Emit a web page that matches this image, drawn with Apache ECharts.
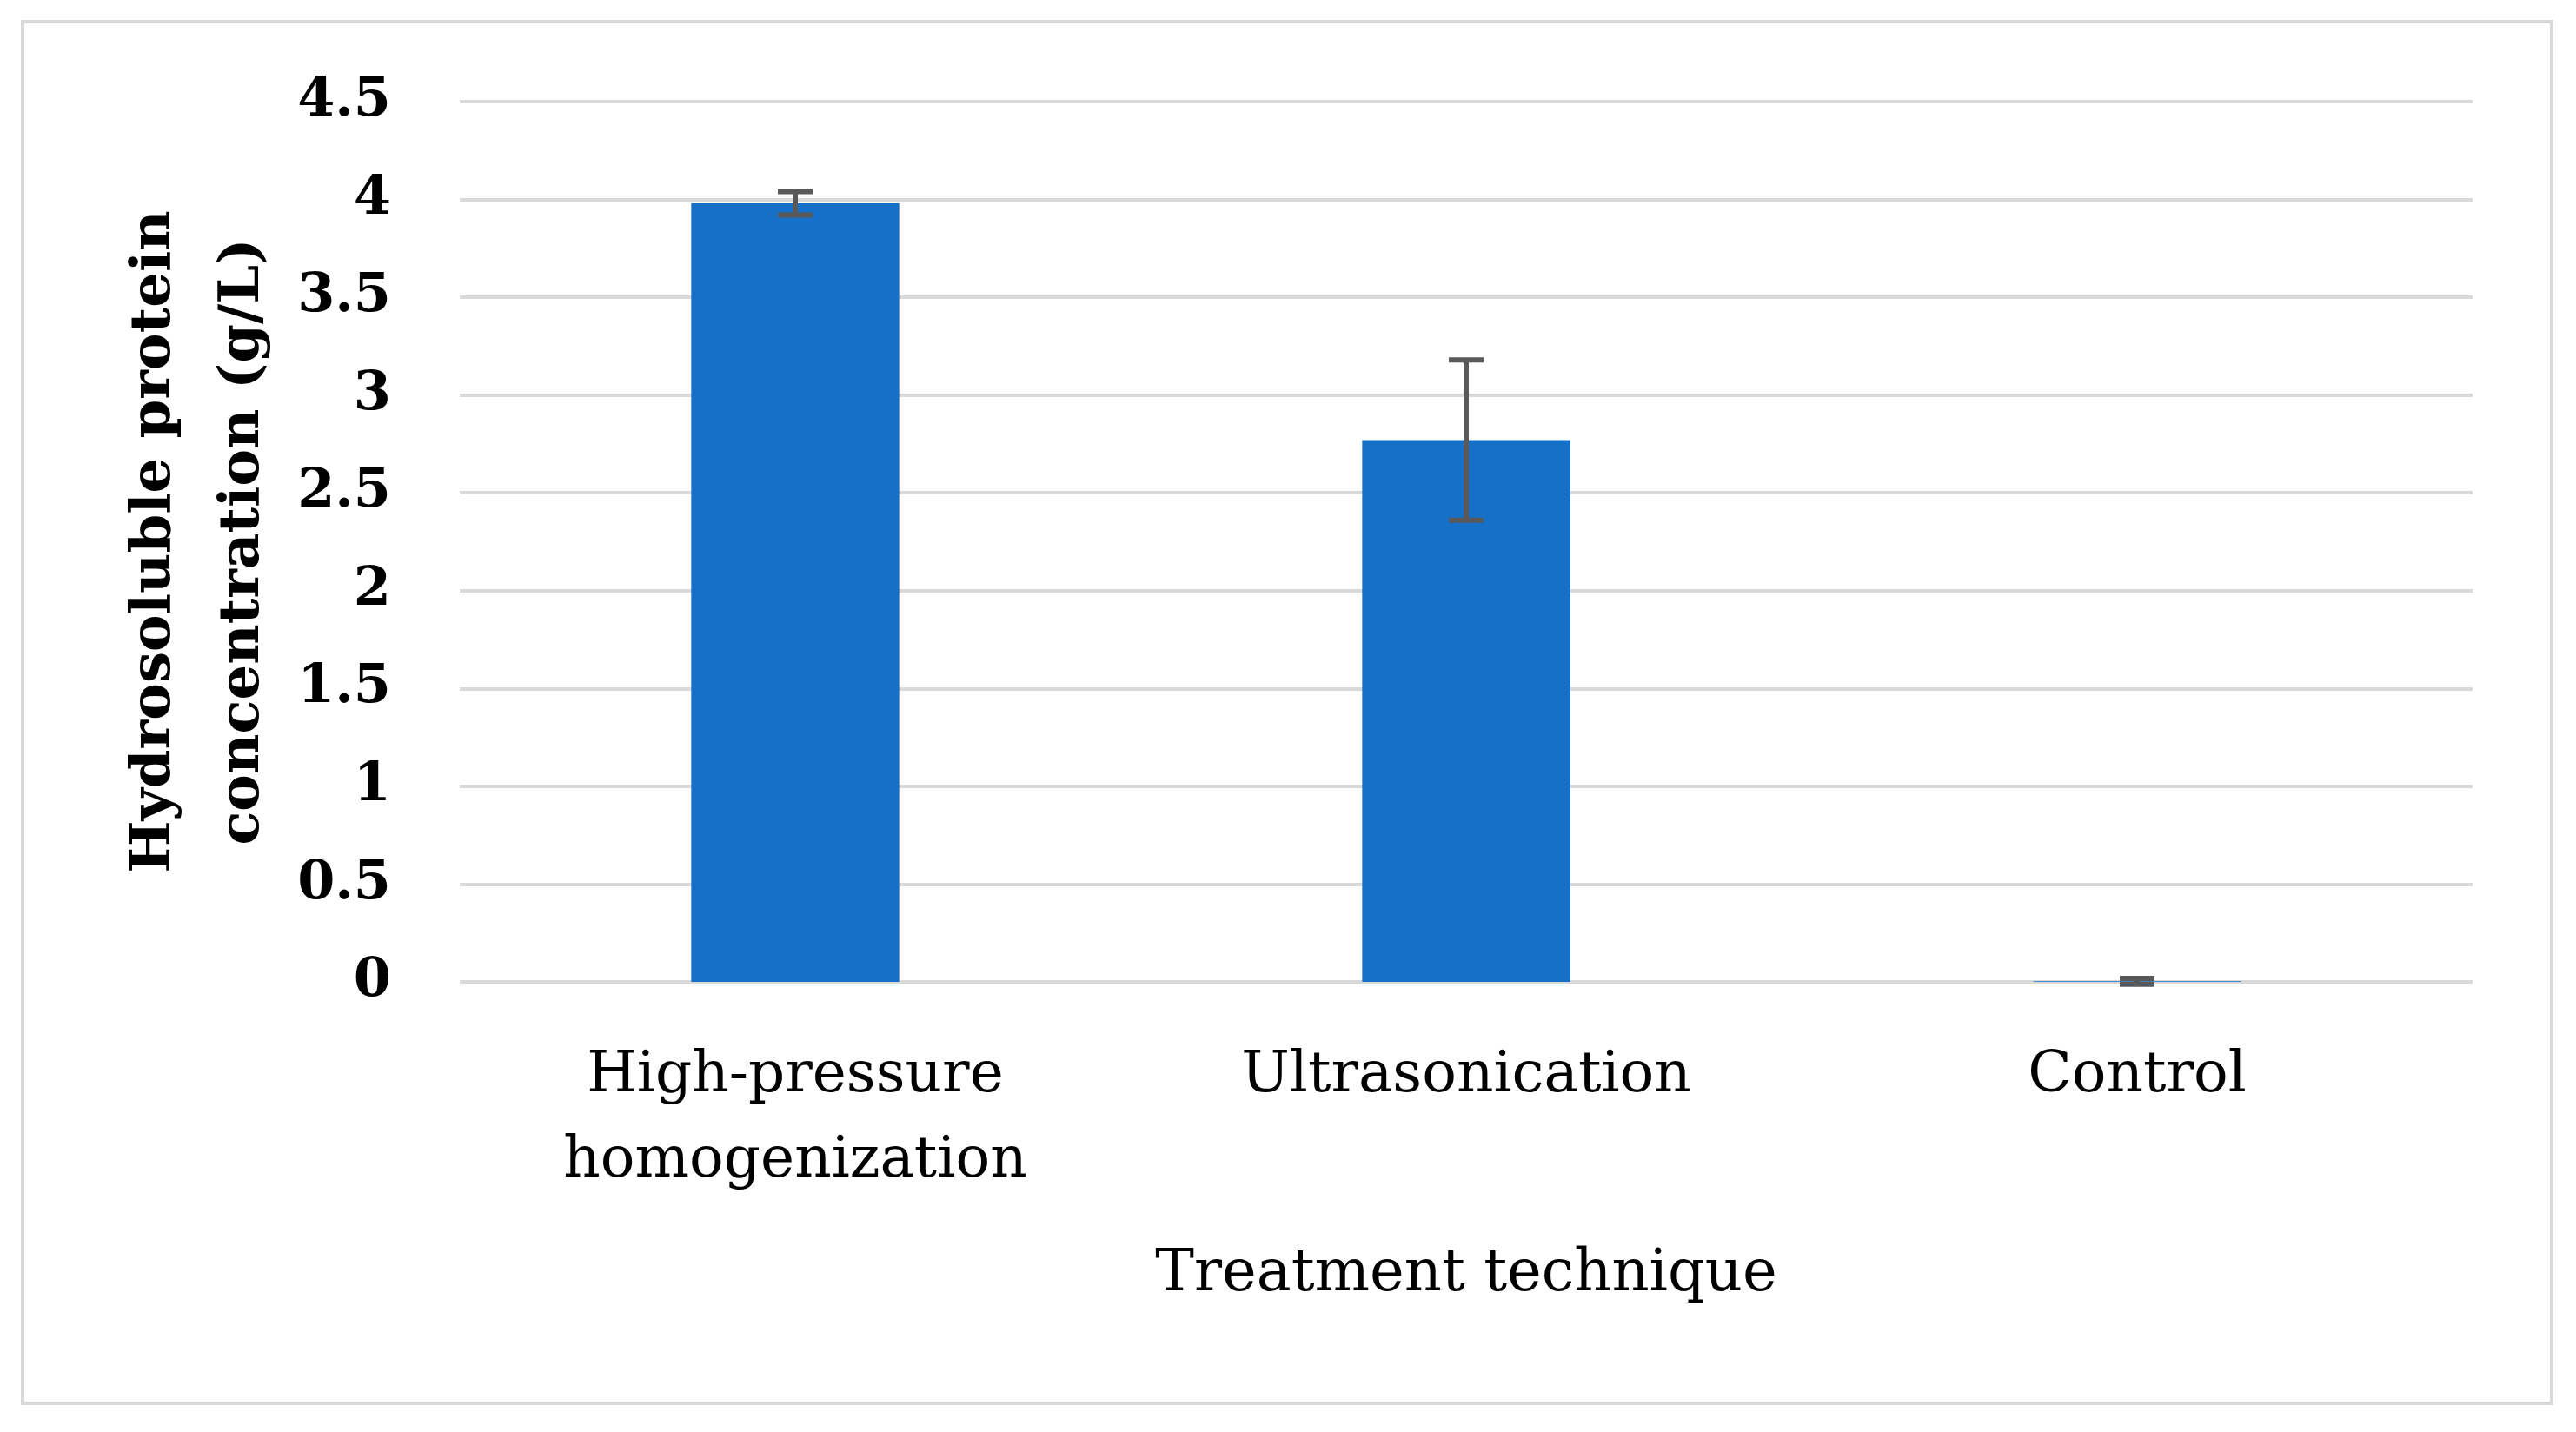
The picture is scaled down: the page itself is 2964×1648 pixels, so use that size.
<!DOCTYPE html>
<html>
<head>
<meta charset="utf-8">
<script src="https://cdn.jsdelivr.net/npm/echarts@6/dist/echarts.min.js"></script>
<style>
html,body{margin:0;padding:0;background:#fff;}
#chart{width:2964px;height:1648px;}
</style>
</head>
<body>
<div id="chart"></div>
<script>
var categories = ['High-pressure\nhomogenization', 'Ultrasonication', 'Control'];
var values = [3.98, 2.77, 0.003];
var errors = [0.06, 0.41, 0.015];
var yTicks = [0, 0.5, 1, 1.5, 2, 2.5, 3, 3.5, 4, 4.5];

var serif = '"DejaVu Serif", "Liberation Serif", serif';
var chart = echarts.init(document.getElementById('chart'));

var errData = values.map(function (v, i) { return [i, v - errors[i], v + errors[i]]; });

chart.setOption({
  animation: false,
  backgroundColor: '#ffffff',
  graphic: [{
    type: 'rect',
    shape: { x: 26, y: 25, width: 2910, height: 1590 },
    style: { fill: 'none', stroke: '#d9d9d9', lineWidth: 4 },
    silent: true
  }],
  grid: { left: 529, right: 119, top: 117, bottom: 518, containLabel: false },
  xAxis: {
    type: 'category',
    data: categories,
    axisLine: { show: false },
    axisTick: { show: false },
    axisLabel: {
      fontFamily: serif, fontSize: 66, color: '#000', margin: 60,
      lineHeight: 98, interval: 0
    },
    name: 'Treatment technique',
    nameLocation: 'middle',
    nameGap: 304,
    nameTextStyle: { fontFamily: serif, fontSize: 67, color: '#000' }
  },
  yAxis: {
    type: 'value',
    min: 0, max: 4.5, interval: 0.5,
    axisLine: { show: false },
    axisTick: { show: false },
    splitLine: { lineStyle: { color: '#d9d9d9', width: 4 } },
    axisLabel: {
      fontFamily: serif, fontSize: 62, fontWeight: 'bold', color: '#000', margin: 79,
      formatter: function (v) { return yTicks.indexOf(v) >= 0 ? String(v) : ''; }
    },
    name: 'Hydrosoluble protein\nconcentration (g/L)',
    nameLocation: 'middle',
    nameGap: 190,
    nameTextStyle: { fontFamily: serif, fontSize: 64, fontWeight: 'bold', color: '#000', lineHeight: 102 }
  },
  series: [{
    type: 'bar',
    data: values,
    barWidth: '31%',
    itemStyle: { color: '#1670c8' }
  }, {
    type: 'custom',
    data: errData,
    z: 10,
    renderItem: function (params, api) {
      var x = api.value(0);
      var lo = api.coord([x, api.value(1)]);
      var hi = api.coord([x, api.value(2)]);
      var hw = 20;
      var st = { stroke: '#595959', lineWidth: 6, fill: 'none' };
      return {
        type: 'group',
        children: [
          { type: 'line', shape: { x1: hi[0], y1: hi[1], x2: lo[0], y2: lo[1] }, style: st },
          { type: 'line', shape: { x1: hi[0] - hw, y1: hi[1], x2: hi[0] + hw, y2: hi[1] }, style: st },
          { type: 'line', shape: { x1: lo[0] - hw, y1: lo[1], x2: lo[0] + hw, y2: lo[1] }, style: st }
        ]
      };
    }
  }]
});
</script>
</body>
</html>
